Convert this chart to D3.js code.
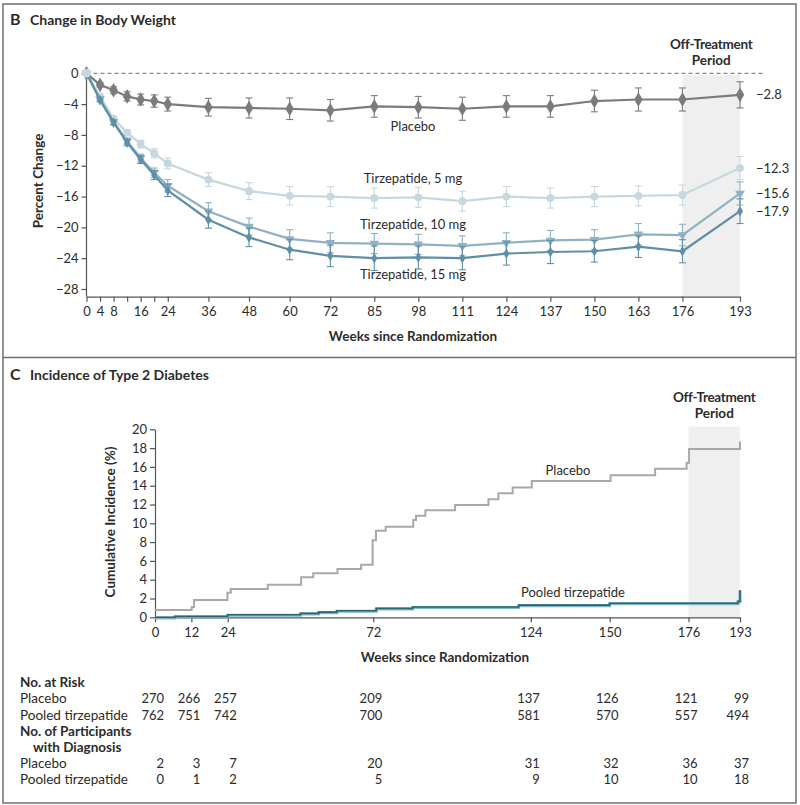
<!DOCTYPE html>
<html>
<head>
<meta charset="utf-8">
<script src="https://cdn.jsdelivr.net/npm/d3@7"></script>
<style>
	body { margin: 0; background: white; }
	text { font-family: Lato, "Noto Sans", sans-serif; fill: #2b2b2b; }
</style>
</head>
<body>
<div id="root"></div>
<script>
//panel B data, percent change in body weight
const weeksB = [0, 4, 8, 12, 16, 20, 24, 36, 48, 60, 72, 85, 98, 111, 124, 137, 150, 163, 176, 193];
const weekLabelsB = [0, 4, 8, 16, 24, 36, 48, 60, 72, 85, 98, 111, 124, 137, 150, 163, 176, 193];
const placeboB = [0, -1.5, -2.2, -3.0, -3.4, -3.6, -4.0, -4.4, -4.5, -4.6, -4.8, -4.3, -4.4, -4.6, -4.3, -4.3, -3.6, -3.4, -3.4, -2.8];
const placeboErr = [0, 0.3, 0.45, 0.6, 0.7, 0.8, 0.9, 1.15, 1.3, 1.4, 1.4, 1.4, 1.4, 1.5, 1.4, 1.4, 1.4, 1.5, 1.5, 1.7];
const tirz5 = [0, -3.0, -5.9, -7.7, -9.2, -10.4, -11.7, -13.8, -15.3, -15.9, -16.0, -16.2, -16.1, -16.6, -16.0, -16.2, -16.0, -15.9, -15.8, -12.3];
const tirz5Err = [0, 0.2, 0.3, 0.4, 0.5, 0.6, 0.7, 0.9, 1.1, 1.2, 1.3, 1.3, 1.3, 1.3, 1.3, 1.3, 1.3, 1.3, 1.3, 1.5];
const tirz10 = [0, -3.3, -6.3, -8.8, -11.0, -12.9, -14.6, -17.9, -19.9, -21.5, -22.0, -22.1, -22.2, -22.4, -22.0, -21.7, -21.6, -20.9, -21.0, -15.6];
const tirz10Err = [0, 0.2, 0.3, 0.4, 0.5, 0.6, 0.8, 1.1, 1.1, 1.2, 1.3, 1.3, 1.3, 1.3, 1.3, 1.3, 1.3, 1.4, 1.4, 1.5];
const tirz15 = [0, -3.5, -6.4, -9.0, -11.2, -13.2, -15.2, -19.0, -21.3, -22.9, -23.7, -24.0, -23.9, -24.0, -23.4, -23.2, -23.1, -22.5, -23.1, -17.9];
const tirz15Err = [0, 0.2, 0.3, 0.4, 0.5, 0.6, 0.8, 1.1, 1.2, 1.3, 1.4, 1.6, 1.5, 1.5, 1.5, 1.5, 1.4, 1.4, 1.5, 1.6];
const endLabelsB = ["\u22122.8", "\u221212.3", "\u221215.6", "\u221217.9"];
const yTicksB = [0, -4, -8, -12, -16, -20, -24, -28];

//panel C data, cumulative incidence step curves (week, percent)
const placeboStepWeeks = [0, 12.1, 12.9, 23.9, 25.0, 37.2, 48.2, 52.2, 60.2, 68.0, 71.8, 72.9, 76.1, 85.2, 86.1, 89.2, 99.0, 110, 113.3, 118, 124.3, 150.3, 165, 175.4, 176.2, 193];
const placeboStepVals = [0.78, 1.1, 1.84, 2.6, 3.0, 3.47, 4.25, 4.68, 5.14, 5.6, 8.2, 9.2, 9.64, 10.35, 10.8, 11.4, 11.95, 12.55, 13.2, 13.8, 14.5, 15.1, 15.8, 16.45, 17.9, 18.7];
const tirzStepWeeks = [0, 6.6, 24, 48, 54, 60, 73, 85, 120, 150, 192.3, 193];
const tirzStepVals = [0, 0.1, 0.27, 0.42, 0.55, 0.7, 0.95, 1.1, 1.3, 1.5, 1.7, 2.9];
const yTicksC = [0, 2, 4, 6, 8, 10, 12, 14, 16, 18, 20];

//risk table
const tableWeeks = [0, 12, 24, 72, 124, 150, 176, 193];
const atRiskPlacebo = [270, 266, 257, 209, 137, 126, 121, 99];
const atRiskTirz = [762, 751, 742, 700, 581, 570, 557, 494];
const diagPlacebo = [2, 3, 7, 20, 31, 32, 36, 37];
const diagTirz = [0, 1, 2, 5, 9, 10, 10, 18];

const width = 800;
const height = 805;

const svg = d3.select("#root")
	.append("svg")
	.attr("width", width)
	.attr("height", height);

//outer frame and divider between panels
svg.append("rect")
	.attr("x", 3).attr("y", 4)
	.attr("width", 793).attr("height", 799)
	.attr("fill", "none")
	.attr("stroke", "#707070")
	.attr("stroke-width", 1.5);
svg.append("line")
	.attr("x1", 3).attr("x2", 796)
	.attr("y1", 357.5).attr("y2", 357.5)
	.attr("stroke", "#707070")
	.attr("stroke-width", 1.5);

function panelTitle(letter, title, y) {
	svg.append("text")
		.attr("x", 10).attr("y", y)
		.style("font-size", "16px").style("font-weight", "bold")
		.text(letter);
	svg.append("text")
		.attr("x", 30).attr("y", y)
		.style("font-size", "14px").style("font-weight", "bold")
		.text(title);
}

function offTreatment(cx, y) {
	svg.append("text")
		.attr("x", cx).attr("y", y)
		.attr("text-anchor", "middle")
		.style("font-size", "13.5px").style("font-weight", "bold")
		.style("letter-spacing", "-0.3px")
		.text("Off-Treatment");
	svg.append("text")
		.attr("x", cx).attr("y", y + 16)
		.attr("text-anchor", "middle")
		.style("font-size", "13.5px").style("font-weight", "bold")
		.text("Period");
}

function styleAxis(g) {
	g.selectAll("path, line").attr("stroke", "#555").attr("stroke-width", 1.2);
	g.selectAll("text")
		.style("font-family", "Lato, 'Noto Sans', sans-serif")
		.style("font-size", "13px")
		.attr("fill", "#2b2b2b");
}

const minus = (d) => d < 0 ? "\u2212" + Math.abs(d) : String(d);

// ---------------- panel B ----------------
panelTitle("B", "Change in Body Weight", 25);

const xB = d3.scaleLinear().domain([0, 193]).range([86.5, 740]);
const yB = d3.scaleLinear().domain([0, -28]).range([73.3, 289]);

//off-treatment shading
svg.append("rect")
	.attr("x", xB(176)).attr("y", yB(-0.2))
	.attr("width", xB(193) - xB(176))
	.attr("height", yB(-29) - yB(-0.2))
	.attr("fill", "#efefef");

offTreatment((xB(176) + xB(193)) / 2, 49);

//zero reference line
svg.append("line")
	.attr("x1", xB(0)).attr("x2", 765)
	.attr("y1", yB(0)).attr("y2", yB(0))
	.attr("stroke", "#888")
	.attr("stroke-width", 1.2)
	.attr("stroke-dasharray", "4,3");

//y axis
const yAxisB = svg.append("g")
	.attr("transform", "translate(" + xB(0) + ",0)")
	.call(d3.axisLeft(yB).tickValues(yTicksB).tickFormat(minus).tickSize(5).tickSizeOuter(0));
yAxisB.select(".domain").remove();
yAxisB.append("line")
	.attr("y1", yB(0.2)).attr("y2", yB(-29))
	.attr("stroke", "#555");
styleAxis(yAxisB);

//x axis
const xAxisB = svg.append("g")
	.attr("transform", "translate(0," + yB(-29) + ")")
	.call(d3.axisBottom(xB).tickValues(weeksB)
		.tickFormat((d) => weekLabelsB.includes(d) ? d : "")
		.tickSize(5).tickSizeOuter(0));
styleAxis(xAxisB);
xAxisB.selectAll("text").attr("dy", "0.9em");

//series
const seriesB = [
	{ vals: tirz5, err: tirz5Err, color: "#c6d7e0", sym: d3.symbolCircle, size: 48, rot: 0 },
	{ vals: tirz10, err: tirz10Err, color: "#8fb1c2", sym: d3.symbolTriangle, size: 40, rot: 180 },
	{ vals: tirz15, err: tirz15Err, color: "#5f8fa7", sym: d3.symbolDiamond, size: 32, rot: 0 },
	{ vals: placeboB, err: placeboErr, color: "#7b7b7b", sym: d3.symbolDiamond, size: 62, rot: 0 }
];

const lineB = d3.line()
	.x((d, i) => xB(weeksB[i]))
	.y((d) => yB(d));

seriesB.forEach(function(s) {
	const g = svg.append("g");
	g.append("path")
		.attr("d", lineB(s.vals))
		.attr("fill", "none")
		.attr("stroke", s.color)
		.attr("stroke-width", 2.2);

	//error bars with caps
	s.vals.forEach(function(v, i) {
		if (s.err[i] === 0) return;
		const x = xB(weeksB[i]);
		const y1 = yB(v + s.err[i]);
		const y2 = yB(v - s.err[i]);
		g.append("line").attr("x1", x).attr("x2", x).attr("y1", y1).attr("y2", y2)
			.attr("stroke", s.color).attr("stroke-width", 1.1);
		[y1, y2].forEach(function(y) {
			g.append("line").attr("x1", x - 3.5).attr("x2", x + 3.5).attr("y1", y).attr("y2", y)
				.attr("stroke", s.color).attr("stroke-width", 1.1);
		});
	});

	g.selectAll("path.pt")
		.data(s.vals)
		.enter()
		.append("path")
		.attr("class", "pt")
		.attr("d", d3.symbol().type(s.sym).size(s.size))
		.attr("transform", (d, i) => "translate(" + xB(weeksB[i]) + "," + yB(d) + ") rotate(" + s.rot + ")")
		.attr("fill", s.color);
});

//start point marker
svg.append("circle")
	.attr("cx", xB(0)).attr("cy", yB(0))
	.attr("r", 4.5)
	.attr("fill", "#c6d7e0");

//series labels
const labelsB = [
	{ text: "Placebo", v: -7.5 },
	{ text: "Tirzepatide, 5 mg", v: -14.2 },
	{ text: "Tirzepatide, 10 mg", v: -20.2 },
	{ text: "Tirzepatide, 15 mg", v: -26.7 }
];
labelsB.forEach(function(l) {
	svg.append("text")
		.attr("x", 413).attr("y", yB(l.v))
		.attr("text-anchor", "middle")
		.style("font-size", "13px")
		.text(l.text);
});

//end values
[placeboB, tirz5, tirz10, tirz15].forEach(function(s, i) {
	svg.append("text")
		.attr("x", 756).attr("y", yB(s[s.length - 1]) + 4.5)
		.style("font-size", "13px")
		.text(endLabelsB[i]);
});

//axis titles
svg.append("text")
	.attr("x", 413).attr("y", 341)
	.attr("text-anchor", "middle")
	.style("font-size", "13.5px").style("font-weight", "bold")
	.text("Weeks since Randomization");

svg.append("text")
	.attr("transform", "translate(43, 181) rotate(-90)")
	.attr("text-anchor", "middle")
	.style("font-size", "13.5px").style("font-weight", "bold")
	.text("Percent Change");

// ---------------- panel C ----------------
panelTitle("C", "Incidence of Type 2 Diabetes", 380);

const xC = d3.scaleLinear().domain([0, 193]).range([155, 740]);
const yC = d3.scaleLinear().domain([0, 20]).range([617.3, 429.3]);

svg.append("rect")
	.attr("x", xC(176)).attr("y", yC(20.3))
	.attr("width", xC(193) - xC(176))
	.attr("height", yC(0) - yC(20.3))
	.attr("fill", "#efefef");

offTreatment((xC(176) + xC(193)) / 2, 402);

const yAxisC = svg.append("g")
	.attr("transform", "translate(" + xC(0) + ",0)")
	.call(d3.axisLeft(yC).tickValues(yTicksC).tickSize(5).tickSizeOuter(0));
styleAxis(yAxisC);

const xAxisC = svg.append("g")
	.attr("transform", "translate(0," + yC(0) + ")")
	.call(d3.axisBottom(xC).tickValues(tableWeeks).tickSize(5).tickSizeOuter(0));
styleAxis(xAxisC);
xAxisC.selectAll("text").attr("dy", "0.9em");

const stepLine = d3.line()
	.x((d) => xC(d[0]))
	.y((d) => yC(d[1]))
	.curve(d3.curveStepAfter);

const placeboPts = placeboStepWeeks.map((w, i) => [w, placeboStepVals[i]]);
const tirzPts = tirzStepWeeks.map((w, i) => [w, tirzStepVals[i]]);

svg.append("path")
	.attr("d", stepLine(placeboPts))
	.attr("fill", "none")
	.attr("stroke", "#a8a8a8")
	.attr("stroke-width", 2);

//tirzepatide line is two-tone: light edge under a dark core
svg.append("path")
	.attr("d", stepLine(tirzPts))
	.attr("fill", "none")
	.attr("stroke", "#7fb8c4")
	.attr("stroke-width", 3)
	.attr("transform", "translate(0,0.6)");
svg.append("path")
	.attr("d", stepLine(tirzPts))
	.attr("fill", "none")
	.attr("stroke", "#2a6372")
	.attr("stroke-width", 1.6);

svg.append("text")
	.attr("x", 568).attr("y", 475)
	.attr("text-anchor", "middle")
	.style("font-size", "13px")
	.text("Placebo");
svg.append("text")
	.attr("x", 573).attr("y", 597)
	.attr("text-anchor", "middle")
	.style("font-size", "13px")
	.text("Pooled tirzepatide");

svg.append("text")
	.attr("x", 445).attr("y", 662)
	.attr("text-anchor", "middle")
	.style("font-size", "13.5px").style("font-weight", "bold")
	.text("Weeks since Randomization");

svg.append("text")
	.attr("transform", "translate(115, 522) rotate(-90)")
	.attr("text-anchor", "middle")
	.style("font-size", "13.5px").style("font-weight", "bold")
	.text("Cumulative Incidence (%)");

// ---------------- table ----------------
const rows = [
	{ label: "No. at Risk", bold: true, y: 687 },
	{ label: "Placebo", vals: atRiskPlacebo, y: 703.3 },
	{ label: "Pooled tirzepatide", vals: atRiskTirz, y: 719.5 },
	{ label: "No. of Participants", bold: true, y: 735.5 },
	{ label: "with Diagnosis", bold: true, indent: true, y: 751.7 },
	{ label: "Placebo", vals: diagPlacebo, y: 768 },
	{ label: "Pooled tirzepatide", vals: diagTirz, y: 784 }
];

rows.forEach(function(r) {
	svg.append("text")
		.attr("x", r.indent ? 33 : 20).attr("y", r.y)
		.style("font-size", "13.5px")
		.style("font-weight", r.bold ? "bold" : "normal")
		.text(r.label);
	if (!r.vals) return;
	svg.selectAll(null)
		.data(r.vals)
		.enter()
		.append("text")
		.attr("x", (d, i) => xC(tableWeeks[i]) + 9)
		.attr("y", r.y)
		.attr("text-anchor", "end")
		.style("font-size", "13px")
		.text((d) => d);
});
</script>
</body>
</html>
